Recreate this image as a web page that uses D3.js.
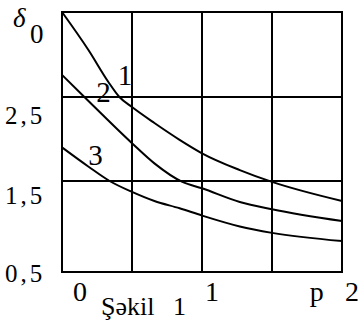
<!DOCTYPE html>
<html>
<head>
<meta charset="utf-8">
<script src="https://cdn.jsdelivr.net/npm/d3@7/dist/d3.min.js"></script>
<style>
  html, body { margin: 0; padding: 0; background: #fff; }
  svg { display: block; }
</style>
</head>
<body>
<svg id="chart" width="359" height="328" font-family="'Liberation Serif', 'Times New Roman', Times, serif"></svg>
<script>
// δ0 against p for three cases (curves 1, 2, 3)
const pValues1 = [0, 0.19, 0.33, 0.41, 0.5, 0.66, 0.84, 1.0, 1.27, 1.5, 2.0];
const delta1   = [3.5, 3.05, 2.68, 2.5, 2.38, 2.19, 1.99, 1.83, 1.63, 1.49, 1.28];

const pValues2 = [0, 0.16, 0.5, 0.66, 0.86, 1.0, 1.27, 1.5, 2.0];
const delta2   = [2.76, 2.5, 1.95, 1.71, 1.49, 1.42, 1.27, 1.19, 1.06];

const pValues3 = [0, 0.19, 0.34, 0.5, 0.66, 0.84, 1.0, 1.27, 1.5, 2.0];
const delta3   = [1.9, 1.67, 1.5, 1.38, 1.28, 1.2, 1.12, 1.0, 0.93, 0.84];

const curveNames = ["1", "2", "3"];

// grid and tick values
const xGrid = [0, 0.5, 1, 1.5, 2];
const yGrid = [0.5, 1.5, 2.5, 3.5];
const xTickValues = [0, 1, 2];
const xTickLabels = ["0", "1", "2"];
const yTickValues = [2.5, 1.5, 0.5];
const yTickLabels = ["2,5", "1,5", "0,5"];
const xAxisName = "p";
const captionWords = ["Şəkil", "1"];

const svg = d3.select("#chart");
svg.append("rect").attr("width", 359).attr("height", 328).attr("fill", "#fff");

const x = d3.scaleLinear().domain([0, 2]).range([62, 342]);
const y = d3.scaleLinear().domain([0.5, 1.5, 2.5, 3.5]).range([272, 181, 97, 12]);

// grid (the outer lines form the frame)
const grid = svg.append("g").attr("stroke", "#000").attr("stroke-width", 2);
grid.selectAll("line.v").data(xGrid).join("line")
  .attr("class", "v")
  .attr("x1", d => x(d)).attr("x2", d => x(d))
  .attr("y1", y(3.5)).attr("y2", y(0.5));
grid.selectAll("line.h").data(yGrid).join("line")
  .attr("class", "h")
  .attr("x1", x(0) - 1).attr("x2", x(2) + 1)
  .attr("y1", d => y(d)).attr("y2", d => y(d));

// curves
const series = [
  pValues1.map((p, i) => [p, delta1[i]]),
  pValues2.map((p, i) => [p, delta2[i]]),
  pValues3.map((p, i) => [p, delta3[i]])
];
const line = d3.line()
  .x(d => x(d[0]))
  .y(d => y(d[1]))
  .curve(d3.curveMonotoneX);
svg.append("g").selectAll("path").data(series).join("path")
  .attr("d", line)
  .attr("fill", "none")
  .attr("stroke", "#000")
  .attr("stroke-width", 2);

// curve numbers, anchored in data units
const curveLabelAt = [[0.45, 2.64], [0.296, 2.44], [0.239, 1.69]];
svg.append("g").selectAll("text").data(curveNames).join("text")
  .attr("x", (d, i) => x(curveLabelAt[i][0]))
  .attr("y", (d, i) => y(curveLabelAt[i][1]))
  .attr("text-anchor", "middle")
  .attr("font-size", 29)
  .text(d => d);

// y tick labels, set a little below their grid lines
const yTickDy = [27, 23, 10];
svg.append("g").selectAll("text").data(yTickValues).join("text")
  .attr("x", 5)
  .attr("y", (d, i) => y(d) + yTickDy[i])
  .attr("font-size", 25)
  .attr("letter-spacing", 3)
  .text((d, i) => yTickLabels[i]);

// x tick labels
const xTickDx = [18, 10, 10];
svg.append("g").selectAll("text").data(xTickValues).join("text")
  .attr("x", (d, i) => x(d) + xTickDx[i])
  .attr("y", 301)
  .attr("text-anchor", "middle")
  .attr("font-size", 28)
  .text((d, i) => xTickLabels[i]);

// axis names
svg.append("text")
  .attr("x", x(1.82)).attr("y", 301)
  .attr("text-anchor", "middle")
  .attr("font-size", 28)
  .text(xAxisName);

const yName = svg.append("text").attr("x", 13).attr("y", 27);
yName.append("tspan").attr("font-size", 27).attr("font-style", "italic").text("δ");
yName.append("tspan").attr("x", 30).attr("y", 43).attr("font-size", 27).text("0");

// caption
const cap = svg.append("text").attr("y", 315).attr("font-size", 26);
cap.append("tspan").attr("x", 101).text(captionWords[0]);
cap.append("tspan").attr("x", 173).text(captionWords[1]);
</script>
</body>
</html>
